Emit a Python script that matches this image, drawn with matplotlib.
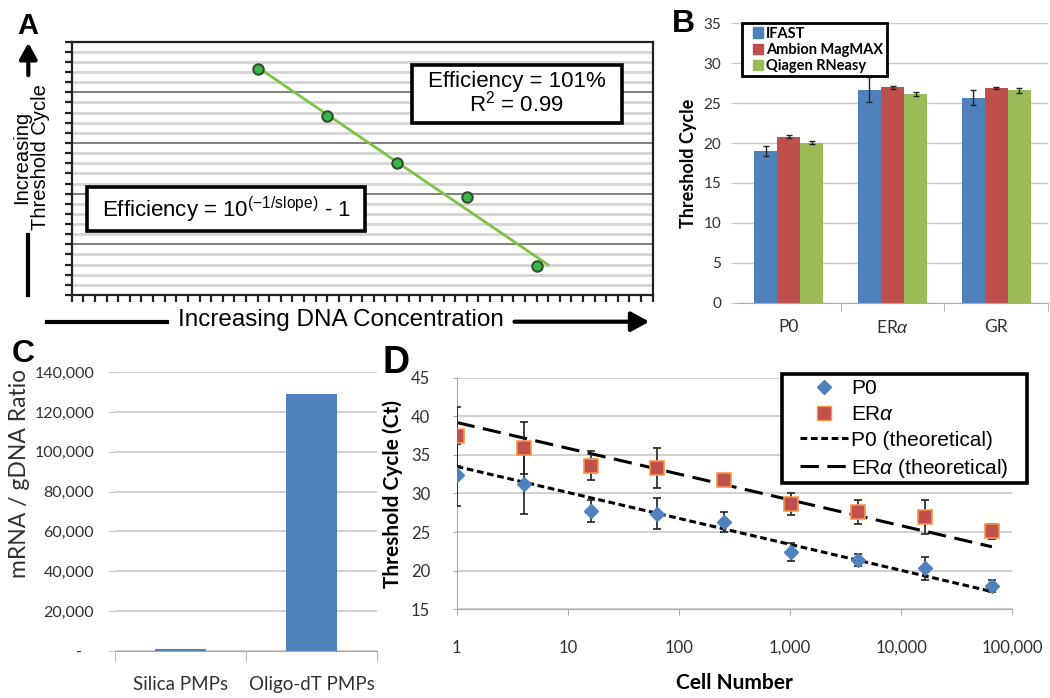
import numpy as np
import matplotlib.pyplot as plt
from matplotlib.transforms import Affine2D
from matplotlib.patches import Rectangle, FancyArrowPatch, Patch
from matplotlib.lines import Line2D
from matplotlib.ticker import FuncFormatter, NullLocator

plt.rcParams['font.family'] = ['Lato', 'DejaVu Sans']
plt.rcParams['mathtext.fontset'] = 'custom'
plt.rcParams['mathtext.rm'] = 'Liberation Sans'
plt.rcParams['mathtext.it'] = 'Liberation Sans:italic'

# ---- A: standard curve (arbitrary units)
std_x = [16, 22, 28, 34, 40]
std_ct = [22.3, 17.7, 13.0, 9.7, 2.9]
fit_x = [16, 41]

# ---- B: extraction methods
genes_b = ['P0', r'ER$\alpha$', 'GR']
kits = ['IFAST', 'Ambion MagMAX', 'Qiagen RNeasy']
ct_ifast = [19.0, 26.7, 25.7]
err_ifast = [0.6, 1.6, 0.9]
ct_ambion = [20.8, 27.0, 26.9]
err_ambion = [0.2, 0.2, 0.1]
ct_qiagen = [20.05, 26.1, 26.6]
err_qiagen = [0.2, 0.25, 0.35]

# ---- C: mRNA / gDNA
beads = ['Silica PMPs', 'Oligo-dT PMPs']
ratio = [1100, 129000]

# ---- D: cell titration
cells = [1, 4, 16, 64, 256, 1024, 4096, 16384, 65536]
ct_p0 = [32.4, 31.2, 27.7, 27.4, 26.3, 22.4, 21.4, 20.3, 18.0]
err_p0 = [4.0, 3.9, 1.45, 2.05, 1.3, 1.15, 0.8, 1.5, 0.75]
ct_era = [37.4, 35.9, 33.6, 33.3, 31.7, 28.6, 27.6, 27.0, 25.1]
err_era = [3.8, 3.4, 1.85, 2.6, 0.3, 1.4, 1.5, 2.2, 0.95]
theo_x = [1, 65536]
theo_p0 = [33.5, 17.3]
theo_era = [39.2, 23.1]
legend_d = ['P0', r'ER$\alpha$', 'P0 (theoretical)', r'ER$\alpha$ (theoretical)']

BLUE, RED, GREEN = '#4F81BD', '#C0504D', '#9BBB59'
GRID = '#c8c8c8'
AXC = '#a8a8a8'
TXT = '#303030'

W, H = 1050, 698
fig = plt.figure(figsize=(W / 100, H / 100), dpi=100)
fig.patch.set_facecolor('white')
# pixel coordinates, origin top-left
pix = Affine2D().scale(1 / W, -1 / H).translate(0, 1) + fig.transFigure


def add_ax(x0, y0, x1, y1):
    return fig.add_axes([x0 / W, 1 - y1 / H, (x1 - x0) / W, (y1 - y0) / H])


def ftext(x, y, s, **kw):
    fig.text(x, y, s, transform=pix, **kw)


# ================= Panel A =================
arial = 'Liberation Sans'
axA = add_ax(71.7, 41.7, 652.7, 295)
axA.set_xlim(0, 50)
axA.set_ylim(0, 25)
axA.set_xticks(np.arange(0, 51, 1))
axA.set_yticks(np.arange(0, 26, 1))
axA.tick_params(direction='out', length=5, width=1.6, color='#222222',
                labelleft=False, labelbottom=False)
for y in range(1, 25):
    if y % 5 == 0:
        axA.axhline(y, color='#808080', lw=1.4, zorder=1)
    else:
        axA.axhline(y, color='#d4d4d4', lw=2.0, zorder=0.5)
for s in axA.spines.values():
    s.set_color('#222222')
    s.set_linewidth(1.6)

coef = np.polyfit(std_x, std_ct, 1)
axA.plot(fit_x, np.polyval(coef, fit_x), color='#7DC242', lw=2, zorder=3)
axA.plot(std_x, std_ct, 'o', ms=7.5, mfc='#3DB54A', mec='#2F4F2F', mew=1.5, zorder=4)

axA.add_patch(Rectangle((412, 65), 210, 58, transform=pix, fc='white', ec='black',
                        lw=2.6, zorder=5, clip_on=False))
axA.add_patch(Rectangle((87, 187), 278, 44, transform=pix, fc='white', ec='black',
                        lw=2.6, zorder=5, clip_on=False))
ftext(517, 82, 'Efficiency = 101%', ha='center', va='center', fontsize=16,
      family=arial, zorder=6)
ftext(517, 104, 'R$^{2}$ = 0.99', ha='center', va='center', fontsize=16,
      family=arial, zorder=6)
ftext(226, 210, r'Efficiency = 10$^{\mathrm{(-1/slope)}}$ - 1', ha='center',
      va='center', fontsize=16, family=arial, zorder=6)

ftext(31, 157, 'Increasing\nThreshold Cycle', rotation=90, ha='center', va='center',
      fontsize=14.5, family=arial, linespacing=0.95)
ftext(341, 320, 'Increasing DNA Concentration', ha='center', va='center',
      fontsize=17.5, family=arial)
fig.add_artist(FancyArrowPatch((28.3, 78), (28.3, 40), transform=pix,
                               arrowstyle='-|>,head_length=0.6,head_width=0.33',
                               mutation_scale=16, lw=3, color='black'))
fig.add_artist(Line2D([28.3, 28.3], [235, 295], transform=pix, lw=3, color='black'))
fig.add_artist(Line2D([46.7, 166.7], [321.7, 321.7], transform=pix, lw=3, color='black'))
fig.add_artist(FancyArrowPatch((511.7, 321.7), (652, 321.7), transform=pix,
                               arrowstyle='-|>,head_length=0.6,head_width=0.33',
                               mutation_scale=18, lw=3, color='black'))
ftext(28, 26, 'A', ha='center', va='center', fontsize=21, fontweight='bold', family=arial)

# ================= Panel B =================
axB = add_ax(736.7, 23.3, 1048.3, 302.7)
xb = np.arange(len(genes_b))
bw = 0.222
for i, (vals, errs, col) in enumerate([(ct_ifast, err_ifast, BLUE),
                                       (ct_ambion, err_ambion, RED),
                                       (ct_qiagen, err_qiagen, GREEN)]):
    axB.bar(xb + (i - 1) * bw, vals, bw, color=col, zorder=2)
    axB.errorbar(xb + (i - 1) * bw, vals, yerr=errs, fmt='none', ecolor='#222222',
                 elinewidth=1, capsize=2, capthick=1, zorder=3)
axB.set_xlim(-0.5, 2.5)
axB.set_ylim(0, 35)
axB.set_yticks(np.arange(0, 36, 5))
axB.yaxis.grid(True, color=GRID, lw=1)
axB.set_axisbelow(True)
axB.set_xticks(xb)
axB.set_xticklabels(genes_b)
axB.set_xticks([0.5, 1.5, 2.5], minor=True)
axB.tick_params(axis='x', which='major', length=0, pad=12, labelsize=12.5, labelcolor=TXT)
axB.tick_params(axis='x', which='minor', length=6, color=AXC)
axB.tick_params(axis='y', length=4, color=GRID, pad=7, labelsize=11, labelcolor=TXT)
for k in ['left', 'top', 'right']:
    axB.spines[k].set_visible(False)
axB.spines['bottom'].set_color(AXC)
axB.set_ylabel('Threshold Cycle', fontsize=13, fontweight='bold', labelpad=5)
axB.add_patch(Rectangle((742, 23), 145, 53, transform=pix, fc='white', ec='black',
                        lw=2, zorder=4, clip_on=False))
legB = axB.legend([Patch(color=c) for c in (BLUE, RED, GREEN)], kits,
                  loc='upper left', bbox_to_anchor=(749, 23), bbox_transform=pix,
                  borderaxespad=0, frameon=False, handlelength=0.7, handleheight=0.7,
                  handletextpad=0.2, labelspacing=0.15, borderpad=0.25,
                  prop={'weight': 'bold', 'size': 10.5})
legB.set_zorder(5)
ftext(683, 24, 'B', ha='center', va='center', fontsize=23, fontweight='bold', family=arial)

# ================= Panel C =================
axC = add_ax(115, 372.3, 377, 650.7)
xc = np.arange(len(beads))
axC.bar(xc, ratio, 0.39, color=BLUE, zorder=2)
axC.set_xlim(-0.5, 1.5)
axC.set_ylim(0, 140000)
axC.set_yticks(np.arange(0, 140001, 20000))
axC.yaxis.set_major_formatter(FuncFormatter(lambda v, p: '-   ' if v == 0 else f'{v:,.0f}'))
axC.yaxis.grid(True, color=GRID, lw=1.2)
axC.set_axisbelow(True)
axC.set_xticks(xc)
axC.set_xticklabels(beads)
axC.set_xticks([-0.5, 0.5, 1.5], minor=True)
axC.tick_params(axis='x', which='major', length=0, pad=18, labelsize=13.5, labelcolor=TXT)
axC.tick_params(axis='x', which='minor', length=7, color=AXC)
axC.tick_params(axis='y', length=5, color=GRID, pad=10, labelsize=11.5, labelcolor=TXT)
for k in ['left', 'top', 'right']:
    axC.spines[k].set_visible(False)
axC.spines['bottom'].set_color(AXC)
ftext(20, 473, 'mRNA / gDNA Ratio', rotation=90, ha='center', va='center',
      fontsize=16.5, color=TXT)
ftext(23, 354, 'C', ha='center', va='center', fontsize=23, fontweight='bold', family=arial)

# ================= Panel D =================
axD = add_ax(456.7, 377.7, 1012.3, 609.3)
axD.set_xscale('log')
axD.set_xlim(1, 1e5)
axD.set_ylim(15, 45)
axD.set_yticks(np.arange(15, 46, 5))
axD.xaxis.set_minor_locator(NullLocator())
axD.xaxis.set_major_formatter(FuncFormatter(lambda v, p: f'{v:,.0f}'))
axD.yaxis.grid(True, color=GRID, lw=1.2)
axD.set_axisbelow(True)
axD.plot(theo_x, theo_p0, color='black', lw=2.2, dashes=(2.2, 1.2), zorder=2)
axD.plot(theo_x, theo_era, color='black', lw=2.2, dashes=(6, 2.8), zorder=2)
axD.errorbar(cells, ct_p0, yerr=err_p0, fmt='D', ms=7, mfc=BLUE, mec=BLUE,
             ecolor='#222222', elinewidth=1.2, capsize=3, capthick=1.2, zorder=3)
axD.errorbar(cells, ct_era, yerr=err_era, fmt='s', ms=10, mfc=RED, mec='#F79646',
             mew=1.2, ecolor='#222222', elinewidth=1.2, capsize=3, capthick=1.2, zorder=3)
axD.tick_params(axis='x', length=4, color=AXC, pad=18, labelsize=12, labelcolor=TXT)
axD.tick_params(axis='y', length=3, color=AXC, pad=16, labelsize=12, labelcolor=TXT)
for k in ['top', 'right']:
    axD.spines[k].set_visible(False)
for k in ['left', 'bottom']:
    axD.spines[k].set_color(AXC)
axD.set_xlabel('Cell Number', fontsize=15, fontweight='bold', labelpad=12)
axD.set_ylabel('Threshold Cycle (Ct)', fontsize=15, fontweight='bold', labelpad=6)

axD.add_patch(Rectangle((782, 373.5), 245, 109, transform=pix, fc='white', ec='black',
                        lw=2.6, zorder=4, clip_on=False))
handles = [Line2D([], [], ls='none', marker='D', ms=7, mfc=BLUE, mec=BLUE),
           Line2D([], [], ls='none', marker='s', ms=10, mfc=RED, mec='#F79646'),
           Line2D([], [], color='black', lw=2.2, dashes=(2.2, 1.2)),
           Line2D([], [], color='black', lw=2.2, dashes=(6, 2.8))]
legD = axD.legend(handles, legend_d,
                  loc='upper left', bbox_to_anchor=(800, 379), bbox_transform=pix,
                  borderaxespad=0, frameon=False, handlelength=2.3, handletextpad=0.15,
                  labelspacing=0.33, borderpad=0,
                  prop={'family': arial, 'size': 15})
legD.set_zorder(5)
ftext(396, 363, 'D', ha='center', va='center', fontsize=27, fontweight='bold', family=arial)

fig.savefig('out.png', dpi=100, facecolor='white')
